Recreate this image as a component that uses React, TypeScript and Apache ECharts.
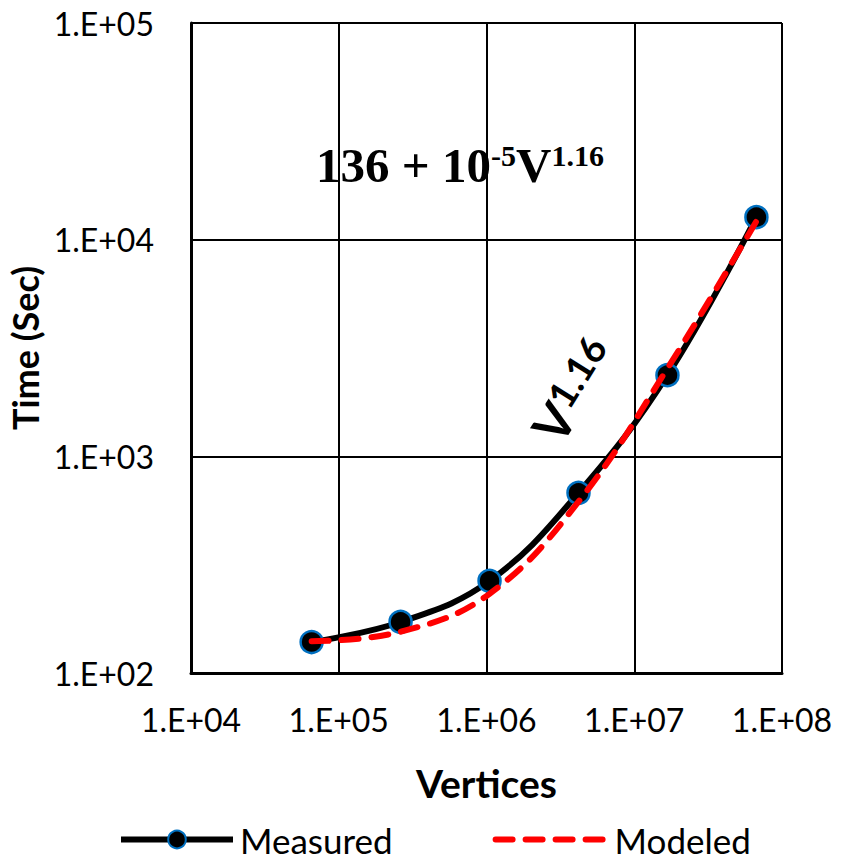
import React, { useEffect, useRef } from "react";
import * as echarts from "echarts";

const vertices = [65536, 262144, 1048576, 4194304, 16777216, 67108864];
const measured = [139, 172, 266, 678, 2370, 12700];
const modeled = [140, 155, 232, 618, 2546, 12176];
const seriesNames = ["Measured", "Modeled"];

const fmt = (v: number) =>
  "1.E+" + String(Math.round(Math.log10(v))).padStart(2, "0");

export default function App() {
  const ref = useRef<HTMLDivElement>(null);
  useEffect(() => {
    document.body.style.margin = "0";
    const chart = echarts.init(ref.current!, null, { renderer: "svg" });
    const font = "Lato";
    chart.setOption({
      animation: false,
      backgroundColor: "#ffffff",
      grid: { left: 191, right: 59, top: 23, bottom: 189, outerBoundsMode: "none", containLabel: false },
      xAxis: {
        type: "log",
        logBase: 10,
        min: 1e4,
        max: 1e8,
        name: "Vertices",
        nameLocation: "middle",
        nameGap: 90,
        nameTextStyle: { fontFamily: font, fontWeight: "bold", fontSize: 39, color: "#000" },
        axisLine: { show: true, lineStyle: { color: "#000", width: 3 } },
        axisTick: { show: false },
        axisLabel: { formatter: fmt, fontFamily: font, fontSize: 32, color: "#000", margin: 30 },
        splitLine: { show: true, lineStyle: { color: "#000", width: 2 } },
        minorTick: { show: false },
      },
      yAxis: {
        type: "log",
        logBase: 10,
        min: 100,
        max: 1e5,
        name: "Time (Sec)",
        nameLocation: "middle",
        nameGap: 145,
        nameRotate: 90,
        nameTextStyle: { fontFamily: font, fontWeight: "bold", fontSize: 36, color: "#000" },
        axisLine: { show: true, lineStyle: { color: "#000", width: 3 } },
        axisTick: { show: false },
        axisLabel: { formatter: fmt, fontFamily: font, fontSize: 32, color: "#000", margin: 37 },
        splitLine: { show: true, lineStyle: { color: "#000", width: 2 } },
      },
      legend: {
        bottom: 0,
        left: 113,
        itemWidth: 112,
        itemHeight: 22,
        itemGap: 100,
        lineStyle: { width: "inherit" },
        textStyle: { fontFamily: font, fontSize: 35, color: "#000", padding: [0, 0, 0, 2] },
        data: [
          { name: seriesNames[0] },
          { name: seriesNames[1], itemStyle: { opacity: 0 } },
        ],
      },
      series: [
        {
          name: seriesNames[0],
          type: "line",
          data: vertices.map((v, i) => [v, measured[i]]),
          smooth: 0.4,
          symbol: "circle",
          symbolSize: 22,
          lineStyle: { color: "#000", width: 6 },
          itemStyle: { color: "#000", borderColor: "#0070C0", borderWidth: 2.5 },
          z: 2,
        },
        {
          name: seriesNames[1],
          type: "line",
          data: vertices.map((v, i) => [v, modeled[i]]),
          smooth: 0.4,
          symbol: "none",
          lineStyle: { color: "#ff0000", width: 6, type: [17, 13], cap: "round" },
          itemStyle: { color: "#ff0000" },
          z: 3,
        },
      ],
      graphic: [
        {
          type: "text",
          x: 460,
          y: 163,
          style: {
            text: "{b|136 + 10}{s|-5}{b|V}{s|1.16}",
            align: "center",
            verticalAlign: "middle",
            rich: {
              b: { fontFamily: "Liberation Serif", fontWeight: "bold", fontSize: 49, lineHeight: 54, verticalAlign: "bottom", fill: "#000" },
              s: { fontFamily: "Liberation Serif", fontWeight: "bold", fontSize: 30, lineHeight: 54, verticalAlign: "top", padding: [4, 0, 0, 0], fill: "#000" },
            },
          },
        },
        {
          type: "text",
          x: 573,
          y: 390,
          rotation: (58 * Math.PI) / 180,
          style: {
            text: "{b|V}{s|1.16}",
            align: "center",
            verticalAlign: "middle",
            rich: {
              b: { fontFamily: font, fontWeight: "bold", fontSize: 50, lineHeight: 52, verticalAlign: "bottom", fill: "#000" },
              s: { fontFamily: font, fontWeight: "bold", fontSize: 38, lineHeight: 52, verticalAlign: "top", fill: "#000" },
            },
          },
        },
      ],
    });
    return () => chart.dispose();
  }, []);
  return <div ref={ref} style={{ width: 841, height: 862 }} />;
}
